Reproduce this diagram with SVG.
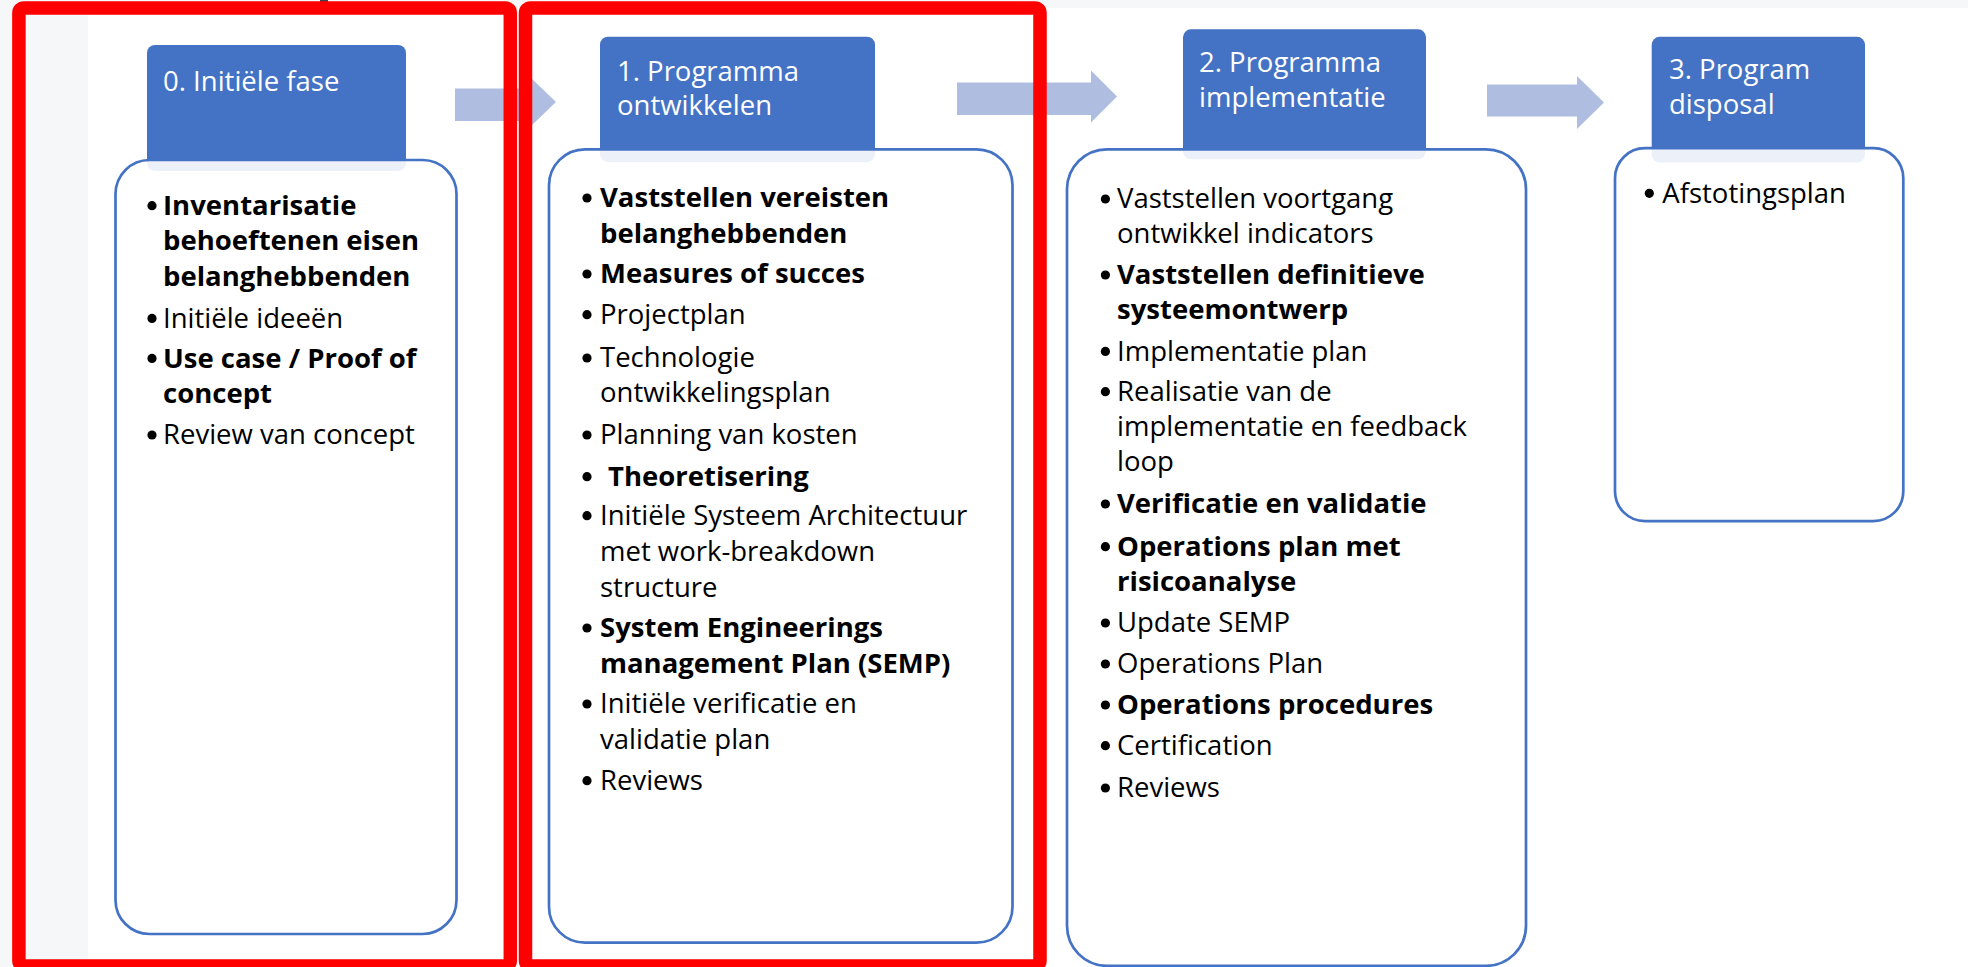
<svg xmlns="http://www.w3.org/2000/svg" width="1968" height="967" viewBox="0 0 1968 967">
<style>
  text { font-family: "Open Sans", "Noto Sans", "Liberation Sans", sans-serif; font-size: 27.5px; }
  .hdr { fill: #4472C4; }
  .hdrtxt { fill: #FFFFFF; }
  .box { fill: #FFFFFF; fill-opacity: 0.9; stroke: #4472C4; stroke-width: 2.7; }
  .body { fill: #000000; }
  .b { font-weight: bold; }
  .bul { fill: #000000; }
  .arrow { fill: #AFBDE0; }
  .frame { fill: none; stroke: #FF0000; stroke-width: 13.5; }
</style>
<rect x="0" y="0" width="1968" height="967" fill="#FFFFFF"/>
<rect x="0" y="0" width="1968" height="8" fill="#F6F7F9"/>
<rect x="0" y="0" width="88" height="967" fill="#F6F7F9"/>
<rect x="320" y="0" width="8" height="3" fill="#3B4252"/>

<g id="phase0">
  <rect class="hdr" x="147" y="45" width="259" height="126" rx="8"/>
  <text class="hdrtxt" x="163" y="90.5">0. Initiële fase</text>
  <rect class="box" x="115.5" y="160" width="341" height="774" rx="34"/>
  <g class="bul">
    <circle cx="152" cy="205.7" r="4.6"/>
    <circle cx="152" cy="318.4" r="4.6"/>
    <circle cx="152" cy="358.4" r="4.6"/>
    <circle cx="152" cy="435" r="4.6"/>
  </g>
  <text class="body">
    <tspan class="b" x="163" y="215">Inventarisatie</tspan>
    <tspan class="b" x="163" y="250">behoeftenen eisen</tspan>
    <tspan class="b" x="163" y="286">belanghebbenden</tspan>
    <tspan x="163" y="327.7">Initiële ideeën</tspan>
    <tspan class="b" x="163" y="367.7">Use case / Proof of</tspan>
    <tspan class="b" x="163" y="403.3">concept</tspan>
    <tspan x="163" y="444.3">Review van concept</tspan>
  </text>
</g>

<g id="phase1">
  <rect class="hdr" x="600" y="36.7" width="275" height="125.5" rx="8"/>
  <text class="hdrtxt"><tspan x="617" y="80.5">1. Programma</tspan><tspan x="617" y="115">ontwikkelen</tspan></text>
  <rect class="box" x="549" y="149.3" width="463.5" height="793.4" rx="36"/>
  <g class="bul">
    <circle cx="587" cy="198" r="4.6"/>
    <circle cx="587" cy="274" r="4.6"/>
    <circle cx="587" cy="314.7" r="4.6"/>
    <circle cx="587" cy="358" r="4.6"/>
    <circle cx="587" cy="435" r="4.6"/>
    <circle cx="587" cy="476.7" r="4.6"/>
    <circle cx="587" cy="515.7" r="4.6"/>
    <circle cx="587" cy="628" r="4.6"/>
    <circle cx="587" cy="704" r="4.6"/>
    <circle cx="587" cy="780.7" r="4.6"/>
  </g>
  <text class="body">
    <tspan class="b" x="600" y="207.3">Vaststellen vereisten</tspan>
    <tspan class="b" x="600" y="242.7">belanghebbenden</tspan>
    <tspan class="b" x="600" y="283.3">Measures of succes</tspan>
    <tspan x="600" y="324">Projectplan</tspan>
    <tspan x="600" y="367.3">Technologie</tspan>
    <tspan x="600" y="401.7">ontwikkelingsplan</tspan>
    <tspan x="600" y="444.3">Planning van kosten</tspan>
    <tspan class="b" x="608" y="486">Theoretisering</tspan>
    <tspan x="600" y="525">Initiële Systeem Architectuur</tspan>
    <tspan x="600" y="561">met work-breakdown</tspan>
    <tspan x="600" y="596.7">structure</tspan>
    <tspan class="b" x="600" y="637.3">System Engineerings</tspan>
    <tspan class="b" x="600" y="672.7">management Plan (SEMP)</tspan>
    <tspan x="600" y="713.3">Initiële verificatie en</tspan>
    <tspan x="600" y="749.3">validatie plan</tspan>
    <tspan x="600" y="790">Reviews</tspan>
  </text>
</g>

<g id="phase2">
  <rect class="hdr" x="1183" y="29.3" width="243" height="130" rx="8"/>
  <text class="hdrtxt"><tspan x="1199" y="72">2. Programma</tspan><tspan x="1199" y="107">implementatie</tspan></text>
  <rect class="box" x="1067" y="149.3" width="459" height="816.5" rx="40"/>
  <g class="bul">
    <circle cx="1105.4" cy="199" r="4.6"/>
    <circle cx="1105.4" cy="275" r="4.6"/>
    <circle cx="1105.4" cy="351.4" r="4.6"/>
    <circle cx="1105.4" cy="391.7" r="4.6"/>
    <circle cx="1105.4" cy="504" r="4.6"/>
    <circle cx="1105.4" cy="546.7" r="4.6"/>
    <circle cx="1105.4" cy="623" r="4.6"/>
    <circle cx="1105.4" cy="664" r="4.6"/>
    <circle cx="1105.4" cy="705" r="4.6"/>
    <circle cx="1105.4" cy="745.7" r="4.6"/>
    <circle cx="1105.4" cy="788" r="4.6"/>
  </g>
  <text class="body">
    <tspan x="1117" y="208.3">Vaststellen voortgang</tspan>
    <tspan x="1117" y="243.3">ontwikkel indicators</tspan>
    <tspan class="b" x="1117" y="284.3">Vaststellen definitieve</tspan>
    <tspan class="b" x="1117" y="319.3">systeemontwerp</tspan>
    <tspan x="1117" y="360.7">Implementatie plan</tspan>
    <tspan x="1117" y="401">Realisatie van de</tspan>
    <tspan x="1117" y="436">implementatie en feedback</tspan>
    <tspan x="1117" y="471">loop</tspan>
    <tspan class="b" x="1117" y="513.3">Verificatie en validatie</tspan>
    <tspan class="b" x="1117" y="556">Operations plan met</tspan>
    <tspan class="b" x="1117" y="591">risicoanalyse</tspan>
    <tspan x="1117" y="632.3">Update SEMP</tspan>
    <tspan x="1117" y="673.3">Operations Plan</tspan>
    <tspan class="b" x="1117" y="714.3">Operations procedures</tspan>
    <tspan x="1117" y="755">Certification</tspan>
    <tspan x="1117" y="797.3">Reviews</tspan>
  </text>
</g>

<g id="phase3">
  <rect class="hdr" x="1651.7" y="36.8" width="213.3" height="125.7" rx="8"/>
  <text class="hdrtxt"><tspan x="1669" y="79">3. Program</tspan><tspan x="1669" y="114">disposal</tspan></text>
  <rect class="box" x="1615" y="148.2" width="288.3" height="373" rx="30"/>
  <circle class="bul" cx="1649.3" cy="193.3" r="4.6"/>
  <text class="body" x="1662.3" y="203">Afstotingsplan</text>
</g>

<g id="connectors">
  <polygon class="arrow" points="455,88.5 530,88.5 530,77 556,102 530,127 530,121 455,121"/>
  <polygon class="arrow" points="957,82.5 1091,82.5 1091,70.5 1117,96.5 1091,122.5 1091,115 957,115"/>
  <polygon class="arrow" points="1487,84.5 1577,84.5 1577,76 1604,102.5 1577,129 1577,116.5 1487,116.5"/>
</g>

<g id="highlights">
  <rect class="frame" x="18.9" y="7.9" width="491.4" height="958" rx="5"/>
  <rect class="frame" x="525.5" y="7.9" width="514.5" height="958" rx="5"/>
</g>
</svg>
